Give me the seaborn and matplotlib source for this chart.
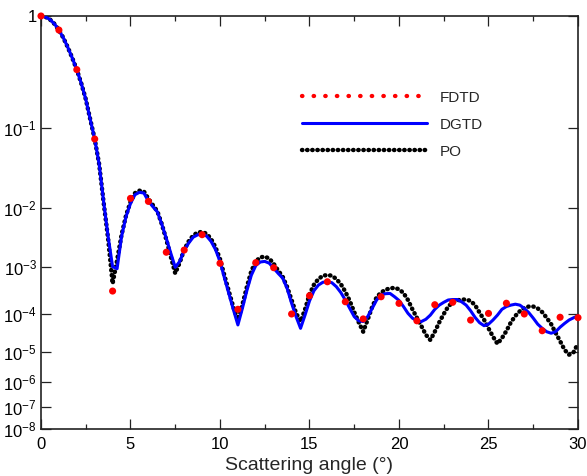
import numpy as np
import matplotlib
matplotlib.use("Agg")
import matplotlib.pyplot as plt
from matplotlib.lines import Line2D
from matplotlib.ticker import MultipleLocator, NullLocator
import seaborn as sns

# ---------------------------------------------------------------
# Data: normalised bistatic RCS versus scattering angle
# ---------------------------------------------------------------
# FDTD samples at whole degrees
angle_fdtd = [0, 1, 2, 3, 4, 5, 6, 7, 8, 9, 10, 11, 12, 13, 14, 15,
              16, 17, 18, 19, 20, 21, 22, 23, 24, 25, 26, 27, 28, 29, 30]
rcs_fdtd = [1.0, 0.75, 0.333, 0.0735, 3.1e-4, 0.0133, 0.0122, 1.8e-3,
            1.96e-3, 3.57e-3, 1.17e-3, 1.26e-4, 1.2e-3, 9.8e-4, 1.0e-4,
            2.46e-4, 4.9e-4, 1.83e-4, 7.4e-5, 2.34e-4, 1.69e-4, 6.6e-5,
            1.58e-4, 1.78e-4, 6.9e-5, 1.03e-4, 1.7e-4, 1.0e-4, 3.6e-5,
            8.2e-5, 8.0e-5]

# DGTD and PO curves on a quarter-degree grid, stored as log10(RCS)
angle_fine = np.linspace(0.0, 30.0, 121)
dgtd_log10 = [
    0.000, -0.008, -0.031, -0.070, -0.125, -0.195, -0.280, -0.375,
    -0.478, -0.600, -0.740, -0.920, -1.134, -1.450, -1.920, -2.480,
    -2.990, -3.030, -2.480, -2.140, -1.940, -1.830, -1.800, -1.810,
    -1.910, -1.980, -2.060, -2.270, -2.510, -2.760, -3.000, -2.900,
    -2.710, -2.590, -2.490, -2.450, -2.440, -2.470, -2.560, -2.700,
    -2.900, -3.230, -3.570, -3.910, -4.290, -3.880, -3.500, -3.170,
    -2.970, -2.910, -2.900, -2.930, -3.020, -3.130, -3.230, -3.450,
    -3.770, -4.070, -4.380, -4.030, -3.720, -3.500, -3.380, -3.320,
    -3.310, -3.330, -3.415, -3.540, -3.700, -3.880, -4.070, -4.180,
    -4.200, -4.070, -3.880, -3.700, -3.590, -3.565, -3.560, -3.630,
    -3.710, -3.840, -3.985, -4.110, -4.180, -4.200, -4.140, -4.030,
    -3.900, -3.810, -3.750, -3.700, -3.690, -3.690, -3.740, -3.810,
    -3.930, -4.090, -4.230, -4.310, -4.270, -4.160, -4.030, -3.900,
    -3.840, -3.810, -3.790, -3.810, -3.880, -3.970, -4.110, -4.270,
    -4.380, -4.470, -4.510, -4.470, -4.350, -4.250, -4.160, -4.100,
    -4.050,
]
po_log10 = [
    0.000, -0.008, -0.031, -0.070, -0.125, -0.195, -0.280, -0.375,
    -0.478, -0.600, -0.740, -0.920, -1.134, -1.450, -1.930, -2.520,
    -3.350, -2.880, -2.450, -2.120, -1.920, -1.810, -1.780, -1.790,
    -1.880, -1.960, -2.050, -2.270, -2.530, -2.820, -3.130, -2.920,
    -2.700, -2.560, -2.460, -2.410, -2.400, -2.430, -2.520, -2.660,
    -2.860, -3.180, -3.520, -3.860, -4.160, -3.800, -3.420, -3.080,
    -2.900, -2.830, -2.820, -2.850, -2.940, -3.070, -3.200, -3.420,
    -3.700, -3.980, -4.200, -3.900, -3.580, -3.370, -3.250, -3.180,
    -3.165, -3.180, -3.250, -3.360, -3.520, -3.720, -3.960, -4.220,
    -4.470, -4.150, -3.850, -3.640, -3.540, -3.480, -3.450, -3.440,
    -3.470, -3.550, -3.700, -3.900, -4.100, -4.320, -4.550, -4.690,
    -4.470, -4.220, -4.000, -3.840, -3.750, -3.710, -3.690, -3.690,
    -3.720, -3.810, -3.970, -4.150, -4.380, -4.600, -4.790, -4.640,
    -4.450, -4.220, -4.050, -3.940, -3.870, -3.840, -3.840, -3.880,
    -3.960, -4.100, -4.270, -4.500, -4.720, -4.950, -5.100, -5.020,
    -4.780,
]
rcs_dgtd = 10.0 ** np.array(dgtd_log10)
rcs_po = 10.0 ** np.array(po_log10)

legend_labels = ["FDTD", "DGTD", "PO"]
ytick_exponents = [-8, -7, -6, -5, -4, -3, -2, -1, 0]

# ---------------------------------------------------------------
# Compressed logarithmic y scale: each lower decade is drawn narrower
# ---------------------------------------------------------------
_dec = np.array([-30.0, -8, -7, -6, -5, -4, -3, -2, -1, 0, 10])
_pos = np.array([-22 * 22.3, 0.0, 22.3, 47.0, 77.3, 115.0, 161.7,
                 220.7, 300.7, 413.0, 413.0 + 10 * 112.3])


def y_forward(y):
    y = np.asarray(y, dtype=float)
    with np.errstate(divide="ignore", invalid="ignore"):
        e = np.log10(np.where(y > 0, y, 1e-30))
    return np.interp(e, _dec, _pos)


def y_inverse(u):
    return 10.0 ** np.interp(np.asarray(u, dtype=float), _pos, _dec)


# ---------------------------------------------------------------
# Figure
# ---------------------------------------------------------------
sns.set_style("ticks")
plt.rcParams.update({
    "font.family": ["Liberation Sans", "DejaVu Sans"],
    "mathtext.fontset": "custom",
    "mathtext.rm": "Liberation Sans",
    "mathtext.it": "Liberation Sans:italic",
    "mathtext.bf": "Liberation Sans:bold",
})

fig, ax = plt.subplots(figsize=(5.87, 4.76), dpi=100)
fig.subplots_adjust(left=41 / 587, right=578 / 587,
                    bottom=1 - 429 / 476, top=1 - 16 / 476)

ax.set_yscale("function", functions=(y_forward, y_inverse))

po_style = dict(color="black", linewidth=3.2, linestyle=(0, (0.1, 1.05)),
                dash_capstyle="round")
fdtd_leg_style = dict(color="red", linewidth=3.1, linestyle=(0, (0.1, 2.6)),
                      dash_capstyle="round")
dgtd_style = dict(color="#0000ff", linewidth=2.2)

sns.lineplot(x=angle_fine, y=rcs_po, ax=ax, zorder=2, **po_style)
sns.lineplot(x=angle_fine, y=rcs_dgtd, ax=ax, zorder=3, **dgtd_style)
sns.scatterplot(x=angle_fdtd, y=rcs_fdtd, ax=ax, color="red", s=26,
                edgecolor="none", linewidth=0, zorder=4, clip_on=False)

ax.set_xlim(0, 30)
ax.set_ylim(1e-8, 1)
ax.xaxis.set_major_locator(MultipleLocator(5))
ax.xaxis.set_minor_locator(MultipleLocator(2.5))
ax.set_yticks([10.0 ** k for k in ytick_exponents])
ax.set_yticklabels([r"$\mathregular{10^{%d}}$" % k if k != 0 else "1"
                    for k in ytick_exponents])
ax.yaxis.set_minor_locator(NullLocator())

ax.tick_params(which="both", direction="in", top=True, right=True,
               width=0.9, color="#222222", labelsize=12, labelcolor="black")
ax.tick_params(which="major", length=7)
ax.tick_params(which="minor", length=3.3)
ax.tick_params(axis="x", pad=6)
ax.tick_params(axis="y", pad=3)

for sp in ax.spines.values():
    sp.set_linewidth(1.2)
    sp.set_color("#222222")

ax.set_xlabel("Scattering angle (°)", fontsize=14, labelpad=3)
ax.set_ylabel("")

handles = [Line2D([], [], **fdtd_leg_style),
           Line2D([], [], **dgtd_style),
           Line2D([], [], **po_style)]
ax.legend(handles, legend_labels, loc="center left",
          bbox_to_anchor=(0.486, 0.737), frameon=False, fontsize=11,
          handlelength=8.2, handletextpad=0.8, labelspacing=0.85,
          borderpad=0, borderaxespad=0)

fig.savefig("out.png", dpi=100)
